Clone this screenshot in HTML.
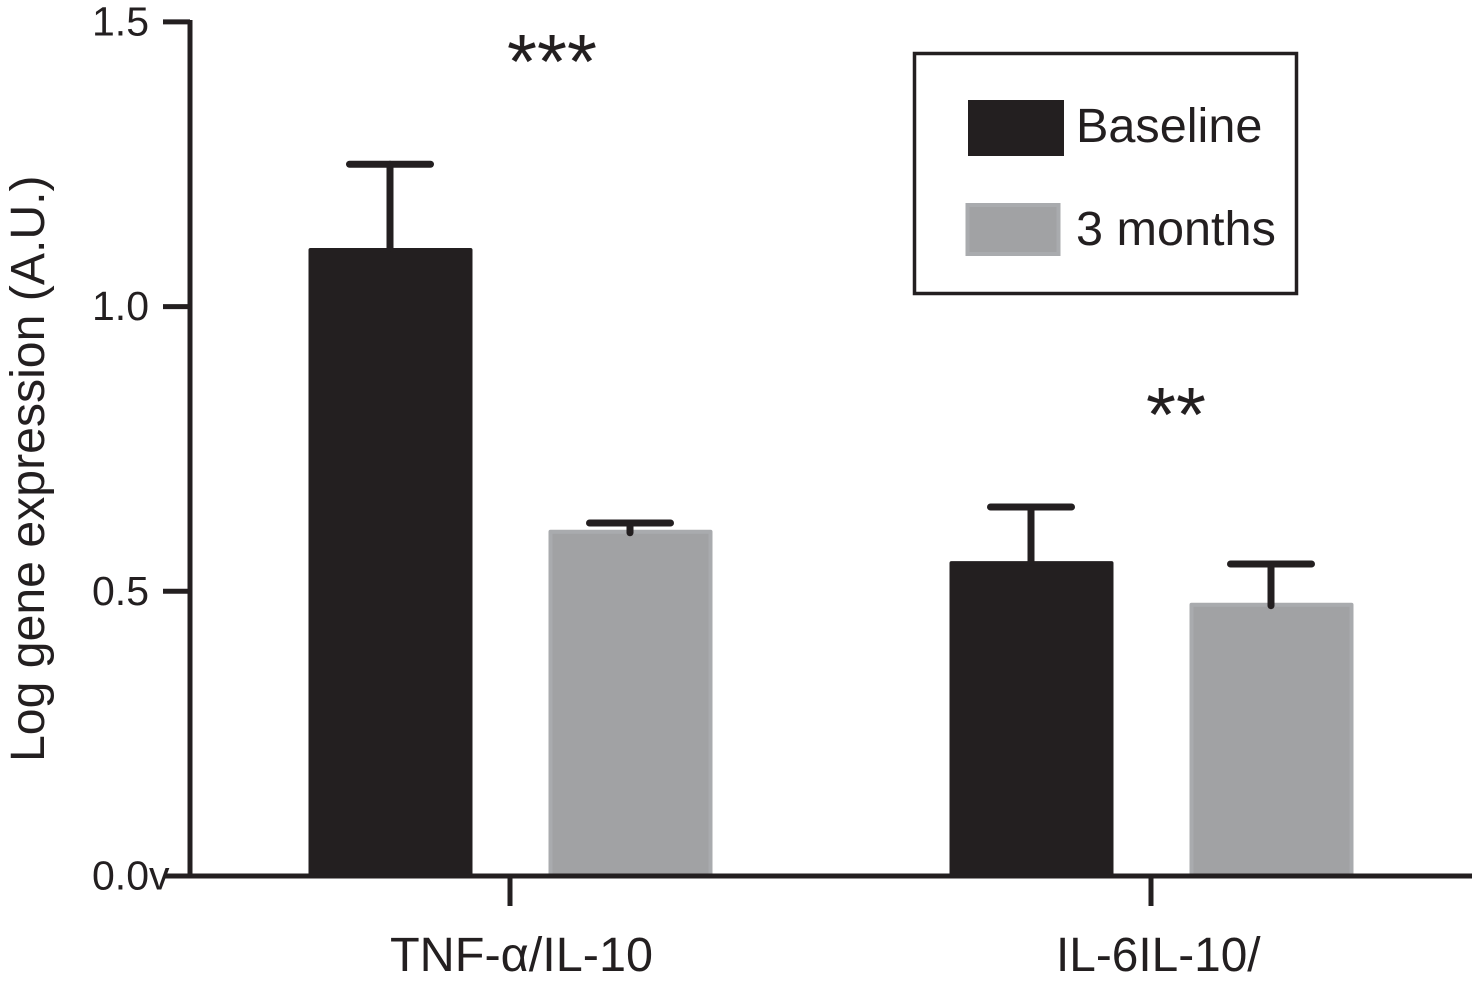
<!DOCTYPE html>
<html lang="en">
<head>
<meta charset="utf-8">
<title>Log gene expression chart</title>
<style>
html,body{margin:0;padding:0;background:#fff;}
body{width:1472px;height:983px;overflow:hidden;}
svg{display:block;}
text{font-family:"Liberation Sans",sans-serif;fill:#231f20;}
</style>
</head>
<body>
<svg id="chart" xmlns="http://www.w3.org/2000/svg" width="1472" height="983" viewBox="0 0 1472 983"></svg>
<script>
const categories = ['TNF-\u03b1/IL-10', 'IL-6IL-10/'];
const seriesNames = ['Baseline', '3 months'];
const baselineValues = [1.103, 0.553];
const threeMonthValues = [0.608, 0.48];
const baselineErrors = [0.147, 0.095];
const threeMonthErrors = [0.012, 0.068];
const tickValues = [0, 0.5, 1, 1.5];
const tickLabels = ['0.0v', '0.5', '1.0', '1.5'];
const significance = ['***', '**'];

const svg = document.getElementById('chart');
const NS = 'http://www.w3.org/2000/svg';
function add(tag, attrs, name, text) {
  const el = document.createElementNS(NS, tag);
  for (const k in attrs) el.setAttribute(k, attrs[k]);
  
  
  if (text !== undefined) el.textContent = text;
  svg.appendChild(el);
  return el;
}
const INK = '#231f20', GREY = '#a1a2a4', GREY_EDGE = '#a9abae';
const y = v => 876 - v * 569.4;
const groupX = i => 510 + i * 641;
const BAR_W = 163;
const barX = (g, s) => groupX(g) + (s === 0 ? -201 : 39);

// bars and error bars
[baselineValues, threeMonthValues].forEach((vals, s) => {
  vals.forEach((v, g) => {
    const x = barX(g, s);
    const err = (s === 0 ? baselineErrors : threeMonthErrors)[g];
    const cx = x + BAR_W / 2;
    const key = (g === 0 ? 'tnf' : 'il6') + (s === 0 ? '-baseline' : '-3months');
    add('rect', {x: x + 1.5, y: y(v) + 2, width: BAR_W - 3, height: y(0) - y(v) - 2,
      fill: s === 0 ? INK : GREY, stroke: s === 0 ? INK : GREY_EDGE, 'stroke-width': 4, 'stroke-linejoin': 'round'}, 'bar-' + key);
    add('line', {x1: cx - 0.5, x2: cx - 0.5, y1: y(v + err), y2: y(v) + (s === 0 ? 0 : 3), stroke: INK, 'stroke-width': 7, 'stroke-linecap': 'round'}, 'error-stem-' + key);
    add('line', {x1: cx - 41, x2: cx + 40, y1: y(v + err), y2: y(v + err), stroke: INK, 'stroke-width': 7, 'stroke-linecap': 'round'}, 'error-cap-' + key);
  });
});

// axes
add('line', {x1: 190, x2: 190, y1: 20, y2: 878, stroke: INK, 'stroke-width': 5}, 'y-axis-line');
add('line', {x1: 165, x2: 1472, y1: y(0), y2: y(0), stroke: INK, 'stroke-width': 5}, 'x-axis-line');
tickValues.forEach((t, i) => {
  if (t > 0) add('line', {x1: 163, x2: 190, y1: y(t), y2: y(t), stroke: INK, 'stroke-width': 5}, 'y-tick-' + tickLabels[i]);
  add('text', {x: 92, y: y(t) + 13.5, 'font-size': 41}, 'y-tick-label-' + i, tickLabels[i]);
});
categories.forEach((c, g) => {
  add('line', {x1: groupX(g), x2: groupX(g), y1: y(0), y2: 906, stroke: INK, 'stroke-width': 5}, 'x-tick-' + g);
  add('text', {x: g === 0 ? 390 : 1056, y: 971, 'font-size': g === 0 ? 48.6 : 47.8}, 'x-tick-label-' + g, c);
});

// axis title
add('text', {transform: 'translate(44,762) rotate(-90)', 'font-size': 48.2}, 'y-axis-title', 'Log gene expression (A.U.)');

// significance markers
significance.forEach((m, g) => {
  add('text', {x: (g === 0 ? 552 : 1176), y: g === 0 ? 88 : 441, 'font-size': 77, 'text-anchor': 'middle'}, 'significance-' + g, m);
});

// legend
add('rect', {x: 914.5, y: 53.5, width: 382, height: 240, fill: '#fff', stroke: INK, 'stroke-width': 3.5}, 'legend-box');
add('rect', {x: 968, y: 100, width: 96, height: 56, fill: INK}, 'legend-swatch-baseline');
add('rect', {x: 967.5, y: 205, width: 91, height: 49, fill: GREY, stroke: GREY_EDGE, 'stroke-width': 4}, 'legend-swatch-3months');
add('text', {x: 1076, y: 142, 'font-size': 48.6}, 'legend-label-baseline', seriesNames[0]);
add('text', {x: 1076, y: 245, 'font-size': 48.6}, 'legend-label-3months', seriesNames[1]);
</script>
</body>
</html>
